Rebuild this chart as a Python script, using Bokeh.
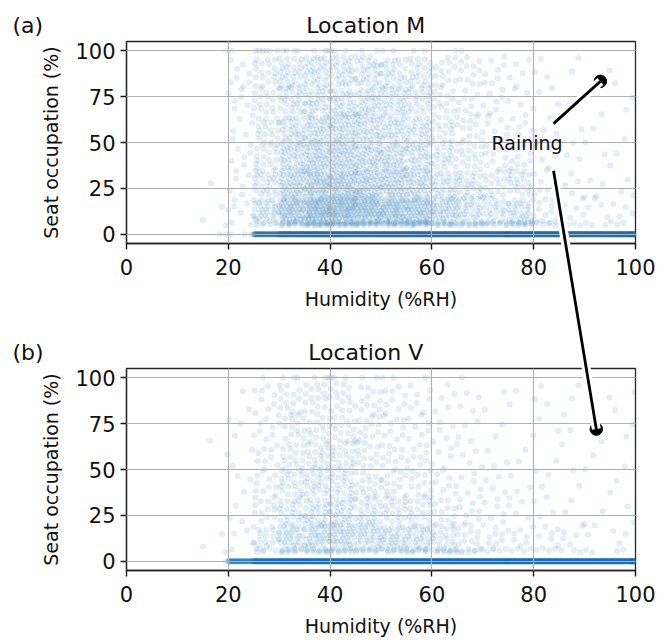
from bokeh.plotting import figure
from bokeh.layouts import column
from bokeh.models import Label, Arrow, Range1d, FixedTicker, GridBox
from bokeh.embed import file_html
from bokeh.resources import INLINE

# ---- data ----
# humidity bin edges (%RH) and seat-occupation bands (%) used to describe point density
HUM_EDGES = [15, 20, 25, 30, 35, 40, 45, 50, 55, 60, 65, 70, 75, 80, 85, 90, 95, 100]
OCC_BANDS = [[8, 20], [20, 35], [35, 50], [50, 65], [65, 80], [80, 97]]

# Location M: number of observations per humidity bin for each occupation band
M_BAND_COUNTS = [
    [2, 6, 28, 56, 72, 72, 62, 58, 54, 36, 26, 20, 24, 10, 6, 4, 4],   # 8-20 %
    [1, 6, 24, 48, 60, 60, 52, 48, 42, 28, 22, 16, 20, 8, 5, 3, 3],    # 20-35 %
    [0, 6, 18, 36, 46, 48, 42, 38, 32, 22, 16, 10, 10, 5, 3, 2, 2],    # 35-50 %
    [0, 6, 18, 30, 36, 38, 34, 30, 26, 18, 12, 8, 6, 4, 2, 1, 1],      # 50-65 %
    [0, 6, 16, 26, 30, 32, 30, 26, 22, 14, 10, 7, 5, 3, 1, 1, 2],      # 65-80 %
    [0, 8, 18, 26, 30, 30, 30, 26, 22, 14, 12, 8, 5, 3, 2, 1, 1],      # 80-97 %
]
M_ROW6 = [1, 2, 8, 18, 25, 25, 24, 22, 25, 18, 15, 12, 16, 8, 4, 3, 3]    # ~6 % occupation
M_ROW100 = [1, 1, 6, 4, 3, 3, 2, 2, 2, 1, 1, 0, 0, 0, 0, 0, 0]           # 100 % occupation
M_ROW0 = [2, 3, 90, 160, 160, 160, 160, 160, 160, 160, 160, 160, 160, 160, 160, 160, 160]  # empty

# Location V
V_BAND_COUNTS = [
    [2, 3, 16, 28, 32, 34, 28, 26, 24, 18, 12, 9, 7, 6, 5, 2, 3],
    [0, 3, 13, 23, 27, 28, 22, 20, 18, 12, 8, 6, 5, 4, 3, 1, 2],
    [0, 3, 10, 19, 22, 22, 16, 14, 12, 8, 6, 4, 3, 3, 2, 1, 2],
    [1, 2, 9, 16, 19, 18, 14, 11, 10, 6, 4, 3, 2, 1, 1, 1, 1],
    [1, 3, 8, 15, 16, 16, 12, 9, 7, 5, 4, 2, 1, 2, 2, 1, 2],
    [0, 2, 8, 14, 16, 16, 12, 9, 7, 5, 4, 2, 2, 3, 2, 1, 2],
]
V_ROW6 = [1, 1, 6, 11, 13, 13, 12, 12, 13, 12, 8, 5, 4, 4, 3, 2, 2]
V_ROW100 = [0, 0, 1, 3, 3, 3, 2, 2, 1, 0, 1, 0, 0, 0, 0, 0, 0]
V_ROW0 = [1, 70, 130, 150, 150, 150, 150, 150, 150, 150, 150, 150, 150, 150, 150, 150, 150]

TITLES = ["Location M", "Location V"]
PANEL_TAGS = ["(a)", "(b)"]
X_TICKS = [0, 20, 40, 60, 80, 100]
Y_TICKS = [0, 25, 50, 75, 100]

# annotation: "Raining" label and the two marked observations (panel data coordinates)
RAIN_TEXT = "Raining"
RAIN_TEXT_XY = [78.7, 50.0]
RAIN_M_POINT = [93.1, 83.3]          # in panel (a)
RAIN_V_POINT = [92.3, 72.0]          # in panel (b)
RAIN_UP_START = [83.9, 60.3]         # in panel (a)
RAIN_DOWN_START = [83.9, 34.6]       # in panel (a)
TAG_XY = [-22.4, 113.7]              # "(a)"/"(b)" baseline position, in each panel's coordinates
TITLE_XY = [47.0, 113.7]             # title baseline centre, in each panel's coordinates

BLUE = "#1f77b4"
FONT = "DejaVu Sans"
INK = "#111111"

G1, G2 = 0.7548776662, 0.5698402910


def expand(band_counts, row6, row100, row0):
    xs, ys = [], []
    cell = 0
    for j in range(len(HUM_EDGES) - 1):
        h0, h1 = HUM_EDGES[j], HUM_EDGES[j + 1]
        for b, (o0, o1) in enumerate(OCC_BANDS):
            n = band_counts[b][j]
            a0 = (cell * 0.318) % 1.0
            b0 = (cell * 0.514) % 1.0
            cell += 1
            for k in range(n):
                xs.append(h0 + (h1 - h0) * ((a0 + k * G1) % 1.0))
                ys.append(o0 + (o1 - o0) * ((b0 + k * G2) % 1.0))
        a0 = (cell * 0.318) % 1.0
        b0 = (cell * 0.514) % 1.0
        cell += 1
        for k in range(row6[j]):
            xs.append(h0 + (h1 - h0) * ((a0 + k * G1) % 1.0))
            ys.append(4.8 + 2.4 * ((b0 + k * G2) % 1.0))
        for k in range(row100[j]):
            xs.append(h0 + (h1 - h0) * ((a0 + k * G2) % 1.0))
            ys.append(100.0)
        n0 = row0[j]
        for k in range(n0):
            if n0 > 3:
                xs.append(h0 + (h1 - h0) * ((k + 0.5) / n0))
            else:
                xs.append(h0 + (h1 - h0) * ((a0 + k * G1) % 1.0))
            ys.append(0.0)
    return xs, ys


FIG_W, FIG_H = 666, 641
FRAME_LEFT, FRAME_W = 126, 509
FRAME_TOP, FRAME_H = 41, 202
TOP_H = 327
BOT_H = FIG_H - TOP_H
X0, X1 = 0, 100
Y0, Y1 = -5, 105
KX = FRAME_W / (X1 - X0)
KY = FRAME_H / (Y1 - Y0)
OFFSET = TOP_H / KY  # data-unit shift between panel (a) and panel (b)


def make_fig(h, xs, ys):
    p = figure(width=FIG_W, height=h, x_range=Range1d(X0, X1), y_range=Range1d(Y0, Y1),
               output_backend="svg", toolbar_location=None,
               min_border_left=FRAME_LEFT, min_border_right=FIG_W - FRAME_LEFT - FRAME_W,
               min_border_top=FRAME_TOP, min_border_bottom=h - FRAME_TOP - FRAME_H)

    p.scatter(xs, ys, size=5.5, fill_color=BLUE, line_color=BLUE, fill_alpha=0.12,
              line_alpha=0.07, line_width=0.8)

    for ax in (p.xaxis, p.yaxis):
        ax.major_label_text_font = FONT
        ax.major_label_text_font_size = "21px"
        ax.major_label_text_color = INK
        ax.axis_label_text_font = FONT
        ax.axis_label_text_font_size = "19px"
        ax.axis_label_text_font_style = "normal"
        ax.axis_label_text_color = INK
        ax.major_tick_out = 6
        ax.major_tick_in = 0
        ax.major_tick_line_width = 1.4
        ax.major_tick_line_color = INK
        ax.minor_tick_line_color = None
        ax.axis_line_color = "#262626"
        ax.axis_line_width = 1.3
    p.xaxis.ticker = FixedTicker(ticks=X_TICKS)
    p.yaxis.ticker = FixedTicker(ticks=Y_TICKS)
    p.xaxis.axis_label = "Humidity (%RH)"
    p.yaxis.axis_label = "Seat occupation (%)"
    p.xaxis.major_label_standoff = 9
    p.yaxis.major_label_standoff = 5
    p.xaxis.axis_label_standoff = 10
    p.yaxis.axis_label_standoff = 10

    p.outline_line_color = "#262626"
    p.outline_line_width = 1.3
    p.outline_line_alpha = 1.0
    p.xgrid.ticker = FixedTicker(ticks=X_TICKS)
    p.ygrid.ticker = FixedTicker(ticks=Y_TICKS)
    for g in (p.xgrid, p.ygrid):
        g.grid_line_color = "#b0b0b0"
        g.grid_line_width = 1.1
        g.level = "annotation"
    return p


mx, my = expand(M_BAND_COUNTS, M_ROW6, M_ROW100, M_ROW0)
vx, vy = expand(V_BAND_COUNTS, V_ROW6, V_ROW100, V_ROW0)

p1 = make_fig(TOP_H, mx, my)
p2 = make_fig(BOT_H, vx, vy)

# transparent overlay covering the whole page, in panel (a) data coordinates,
# used for titles, panel tags and the annotation that crosses both panels
ov = figure(width=FIG_W, height=FIG_H,
            x_range=Range1d(X0 - FRAME_LEFT / KX, X0 + (FIG_W - FRAME_LEFT) / KX),
            y_range=Range1d(Y1 - (FIG_H - FRAME_TOP) / KY, Y1 + FRAME_TOP / KY),
            output_backend="svg", toolbar_location=None,
            x_axis_location=None, y_axis_location=None,
            min_border=0, min_border_left=0, min_border_right=0,
            min_border_top=0, min_border_bottom=0)
ov.background_fill_color = None
ov.border_fill_color = None
ov.outline_line_color = None
ov.grid.visible = False

for i in range(2):
    ov.add_layout(Label(x=TAG_XY[0], y=TAG_XY[1] - i * OFFSET, text=PANEL_TAGS[i],
                        text_font=FONT, text_font_size="22px", text_baseline="alphabetic",
                        text_color=INK))
    ov.add_layout(Label(x=TITLE_XY[0], y=TITLE_XY[1] - i * OFFSET, text=TITLES[i],
                        text_font=FONT, text_font_size="22px", text_baseline="alphabetic",
                        text_align="center", text_color=INK))


def add_line(p, x0, y0, x1, y1):
    for col, w in (("white", 9), ("black", 2.8)):
        p.add_layout(Arrow(end=None, x_start=x0, y_start=y0, x_end=x1, y_end=y1,
                           line_color=col, line_width=w, level="overlay"))


add_line(ov, RAIN_UP_START[0], RAIN_UP_START[1], RAIN_M_POINT[0], RAIN_M_POINT[1])
add_line(ov, RAIN_DOWN_START[0], RAIN_DOWN_START[1], RAIN_V_POINT[0], RAIN_V_POINT[1] - OFFSET)
ov.scatter([RAIN_M_POINT[0], RAIN_V_POINT[0]], [RAIN_M_POINT[1], RAIN_V_POINT[1] - OFFSET],
           size=12.5, color="black", level="overlay")
ov.add_layout(Label(x=RAIN_TEXT_XY[0], y=RAIN_TEXT_XY[1], text=RAIN_TEXT, text_font=FONT,
                    text_font_size="19px", text_align="center", text_baseline="middle",
                    text_color=INK, level="overlay"))

layout = GridBox(children=[(p1, 0, 0), (p2, 1, 0), (column(ov), 0, 0, 2, 1)])
open("out.html", "w").write(file_html(layout, INLINE))
